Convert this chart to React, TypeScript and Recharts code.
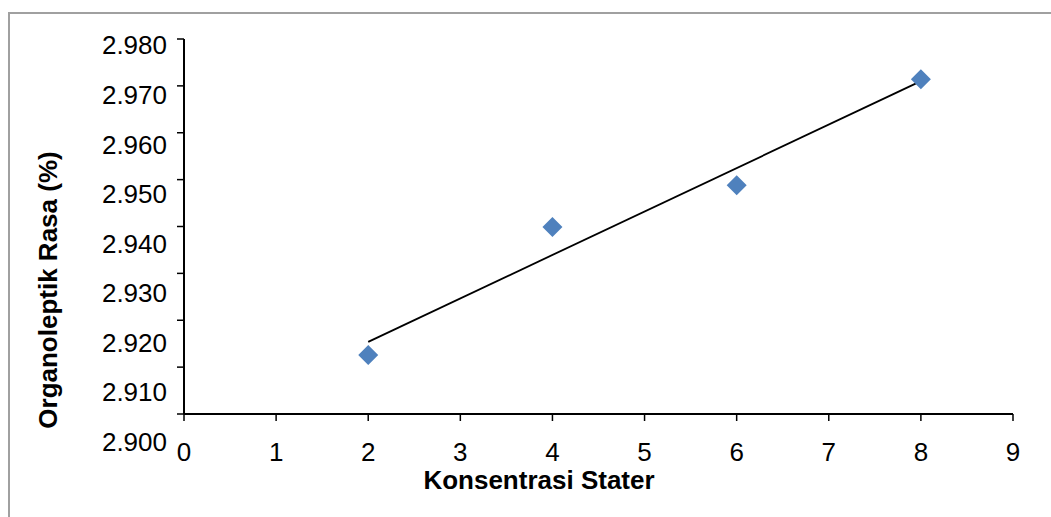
import { Scatter, ScatterChart, XAxis, YAxis } from "recharts";

const konsentrasi = [2, 4, 6, 8];
const rasa = [2.9126, 2.9399, 2.9488, 2.9714];

// linear trendline end points
const trendX = [2, 8];
const trendY = [2.9154, 2.9710];

const xTicks = [0, 1, 2, 3, 4, 5, 6, 7, 8, 9];
const yTicks = [2.9, 2.91, 2.92, 2.93, 2.94, 2.95, 2.96, 2.97, 2.98];

const points = konsentrasi.map((k, i) => ({ x: k, y: rasa[i] }));
const trend = trendX.map((k, i) => ({ x: k, y: trendY[i] }));

const FONT = "'Liberation Sans', Arial, sans-serif";

function Diamond(props: any) {
    const { cx, cy } = props;
    const r = 10;
    return (
        <polygon
            points={`${cx},${cy - r} ${cx + r},${cy} ${cx},${cy + r} ${cx - r},${cy}`}
            fill="#4F81BD"
        />
    );
}

function YTick(props: any) {
    const { x, y, payload } = props;
    // excel spreads the labels a bit wider than the ticks
    const ly = y + 6 + (y - 39) * 0.0576;
    return (
        <text x={x} y={ly} dy="0.36em" textAnchor="end" fontSize={26} fontFamily={FONT} fill="#000">
            {Number(payload.value).toFixed(3)}
        </text>
    );
}

function XTick(props: any) {
    const { x, y, payload } = props;
    return (
        <text x={x} y={y + 38} textAnchor="middle" fontSize={26} fontFamily={FONT} fill="#000">
            {payload.value}
        </text>
    );
}

export default function App() {
    return (
        <div style={{ position: "absolute", left: 0, top: 0, width: 1051, height: 517, overflow: "hidden", background: "#fff" }}>
            <div
                style={{
                    position: "absolute",
                    left: 8,
                    top: 12,
                    width: 1200,
                    height: 700,
                    border: "2px solid #a0a0a0",
                }}
            />
            <div style={{ position: "absolute", left: 0, top: 0 }}>
                <ScatterChart width={1051} height={517} margin={{ top: 39, right: 38, left: 0, bottom: 0 }}>
                    <XAxis
                        type="number"
                        dataKey="x"
                        domain={[0, 9]}
                        ticks={xTicks}
                        interval={0}
                        height={103}
                        tickSize={7}
                        tickMargin={2}
                        axisLine={{ stroke: "#000", strokeWidth: 2 }}
                        tickLine={{ stroke: "#000", strokeWidth: 1.5 }}
                        tick={<XTick />}
                        label={{
                            content: () => (
                                <text x={539} y={489} textAnchor="middle" fontSize={26} fontWeight="bold" fontFamily={FONT} fill="#000">
                                    Konsentrasi Stater
                                </text>
                            ),
                        }}
                    />
                    <YAxis
                        type="number"
                        dataKey="y"
                        domain={[2.9, 2.98]}
                        ticks={yTicks}
                        interval={0}
                        width={184}
                        tickSize={7}
                        tickMargin={10}
                        axisLine={{ stroke: "#000", strokeWidth: 2 }}
                        tickLine={{ stroke: "#000", strokeWidth: 1.5 }}
                        tick={<YTick />}
                        label={{
                            content: () => (
                                <text
                                    x={48}
                                    y={290}
                                    dy="0.36em"
                                    textAnchor="middle"
                                    transform="rotate(-90, 48, 290)"
                                    fontSize={26}
                                    fontWeight="bold"
                                    fontFamily={FONT}
                                    fill="#000"
                                >
                                    Organoleptik Rasa (%)
                                </text>
                            ),
                        }}
                    />
                    <Scatter
                        data={trend}
                        line={{ stroke: "#000", strokeWidth: 1.8 }}
                        shape={() => <g />}
                        isAnimationActive={false}
                        legendType="none"
                    />
                    <Scatter data={points} shape={<Diamond />} isAnimationActive={false} />
                </ScatterChart>
            </div>
        </div>
    );
}
